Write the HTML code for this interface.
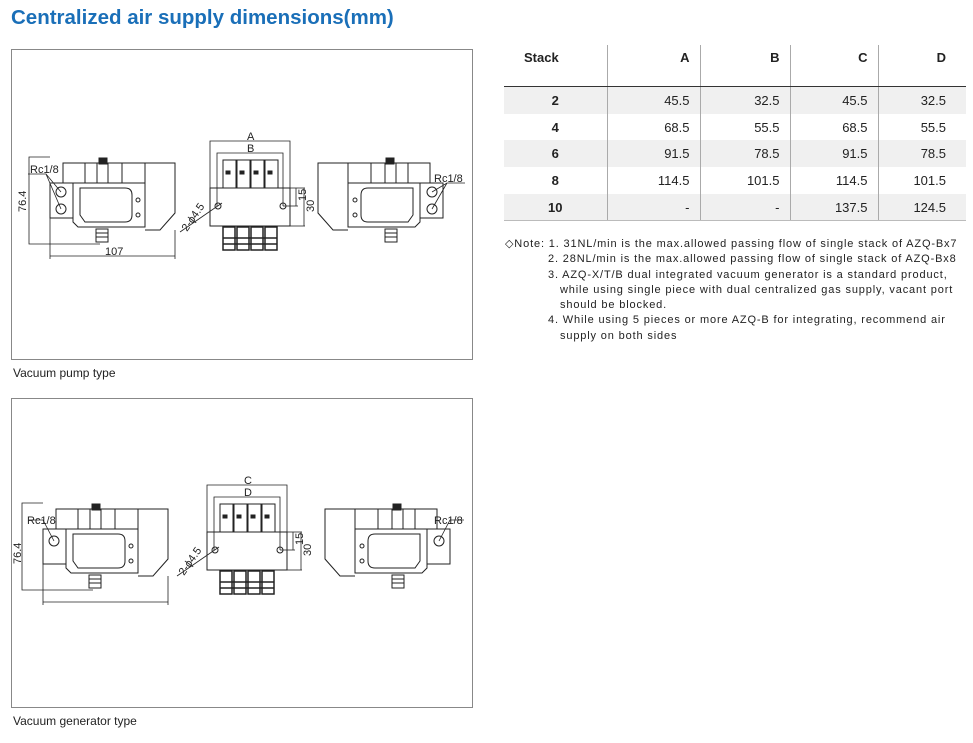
<!DOCTYPE html>
<html><head><meta charset="utf-8"><style>
body{margin:0;width:973px;height:743px;background:#fff;font-family:"Liberation Sans",sans-serif;position:relative;overflow:hidden}
.t{position:absolute;left:11px;top:6px;font-size:20.5px;font-weight:bold;color:#1a6fb8}
.box{position:absolute;left:11px;width:460px;border:1px solid #888}
.cap{position:absolute;left:13px;font-size:12px;color:#222}
table{position:absolute;left:504px;top:45px;width:462px;border-collapse:collapse;table-layout:fixed;font-size:13px;color:#222}
td,th{text-align:right;padding:0 10px 0 0;height:26.7px}
td:last-child,th:last-child{padding-right:20px}
th{height:36px;vertical-align:top;padding-top:5px;font-weight:bold;border-bottom:1.5px solid #333}
td:first-child,th:first-child{text-align:center;font-weight:bold;padding:0}
th:first-child{text-align:left;padding:5px 0 0 20px}
td+td,th+th{border-left:1px solid #aaa}
tr.s td{background:#f0f0f0}
tbody tr:last-child td{border-bottom:1.5px solid #bbb}
.n{position:absolute;left:505px;top:237px;font-size:11px;color:#222;line-height:15.3px;letter-spacing:0.85px}
svg{position:absolute;left:0;top:0}
svg text{font-family:"Liberation Sans",sans-serif;font-size:11px;fill:#222}
</style></head><body>
<div class="t">Centralized air supply dimensions(mm)</div>
<div class="box" style="top:49px;height:309px"></div>
<div class="cap" style="top:366px">Vacuum pump type</div>
<div class="box" style="top:398px;height:308px"></div>
<div class="cap" style="top:714px">Vacuum generator type</div>
<table>
<colgroup><col style="width:103px"><col style="width:93px"><col style="width:90px"><col style="width:88px"><col style="width:88px"></colgroup>
<thead><tr><th>Stack</th><th>A</th><th>B</th><th>C</th><th>D</th></tr></thead>
<tbody>
<tr class="s"><td>2</td><td>45.5</td><td>32.5</td><td>45.5</td><td>32.5</td></tr>
<tr><td>4</td><td>68.5</td><td>55.5</td><td>68.5</td><td>55.5</td></tr>
<tr class="s"><td>6</td><td>91.5</td><td>78.5</td><td>91.5</td><td>78.5</td></tr>
<tr><td>8</td><td>114.5</td><td>101.5</td><td>114.5</td><td>101.5</td></tr>
<tr class="s"><td>10</td><td>-</td><td>-</td><td>137.5</td><td>124.5</td></tr>
</tbody></table>
<div class="n">◇Note: 1. 31NL/min is the max.allowed passing flow of single stack of AZQ-Bx7<br>
<span style="padding-left:43px">2. 28NL/min is the max.allowed passing flow of single stack of AZQ-Bx8</span><br>
<span style="padding-left:43px">3. AZQ-X/T/B dual integrated vacuum generator is a standard product,</span><br>
<span style="padding-left:55px">while using single piece with dual centralized gas supply, vacant port</span><br>
<span style="padding-left:55px">should be blocked.</span><br>
<span style="padding-left:43px">4. While using 5 pieces or more AZQ-B for integrating, recommend air</span><br>
<span style="padding-left:55px">supply on both sides</span></div>
<svg width="973" height="743" viewBox="0 0 973 743">
<defs>
<g id="side" fill="none" stroke="#222" stroke-width="1">
<rect x="50" y="183" width="23" height="35"/>
<rect x="63" y="163" width="82" height="20"/>
<line x1="85" y1="163" x2="85" y2="183"/><line x1="97" y1="163" x2="97" y2="183"/><line x1="108" y1="163" x2="108" y2="183"/><line x1="122" y1="163" x2="122" y2="183"/>
<rect x="99" y="158" width="8" height="6" fill="#222"/>
<path d="M73 183 H145 V227 H78 L73 222 Z"/>
<path d="M80 188 H125 Q132 188 132 195 V215 Q132 222 125 222 H85 L80 215 Z"/>
<path d="M145 163 H175 V213 L160 230 H145"/>
<circle cx="138" cy="200" r="2"/><circle cx="138" cy="215" r="2"/>
<rect x="96" y="229" width="12" height="13"/>
<line x1="96" y1="233" x2="108" y2="233"/><line x1="96" y1="237" x2="108" y2="237"/>
</g>
<g id="front" fill="none" stroke="#222" stroke-width="1">
<rect x="210" y="188" width="80" height="38"/>
<rect x="223" y="160" width="13" height="28"/><rect x="237" y="160" width="13" height="28"/><rect x="251" y="160" width="13" height="28"/><rect x="265" y="160" width="13" height="28"/>
<rect x="226" y="171" width="4" height="3" fill="#222"/><rect x="240" y="171" width="4" height="3" fill="#222"/><rect x="254" y="171" width="4" height="3" fill="#222"/><rect x="268" y="171" width="4" height="3" fill="#222"/>
<g stroke-width="1.5"><rect x="223" y="227" width="12" height="23"/><rect x="237" y="227" width="12" height="23"/><rect x="251" y="227" width="12" height="23"/><rect x="265" y="227" width="12" height="23"/>
<line x1="223" y1="238" x2="277" y2="238"/><line x1="223" y1="244" x2="277" y2="244"/></g>
<circle cx="218" cy="206" r="3"/><circle cx="283" cy="206" r="3"/>
<polyline points="210,188 210,141 290,141 290,188" stroke-width="0.8"/>
<polyline points="217,206 217,153 283,153 283,206" stroke-width="0.8"/>
<line x1="290" y1="188" x2="305" y2="188" stroke-width="0.8"/><line x1="283" y1="206" x2="298" y2="206" stroke-width="0.8"/><line x1="290" y1="226" x2="305" y2="226" stroke-width="0.8"/>
<line x1="296" y1="188" x2="296" y2="206" stroke-width="0.8"/><line x1="304" y1="188" x2="304" y2="226" stroke-width="0.8"/>
<line x1="180" y1="232" x2="222" y2="203" stroke-width="0.8"/>
</g>
</defs>
<g>
<use href="#side"/>
<circle cx="61" cy="192" r="5" fill="none" stroke="#222"/><circle cx="61" cy="209" r="5" fill="none" stroke="#222"/>
<path d="M28 174 H46 L61 192 M46 174 L61 209" fill="none" stroke="#222" stroke-width="0.8"/>
<path d="M50 157 H29 V244 H100 M50 218 V259 M175 230 V259 M50 256 H175" fill="none" stroke="#222" stroke-width="0.8"/>
<text x="30" y="173">Rc1/8</text>
<text x="105" y="255">107</text>
<text transform="translate(26,212) rotate(-90)">76.4</text>
<use href="#front"/>
<text x="247" y="140">A</text><text x="247" y="152">B</text>
<text transform="translate(306,201) rotate(-90)" font-size="10">15</text>
<text transform="translate(314,212) rotate(-90)" font-size="10">30</text>
<text transform="translate(187,232) rotate(-55)" font-size="10">2-ϕ4.5</text>
<g transform="translate(493,0) scale(-1,1)"><use href="#side"/>
<circle cx="61" cy="192" r="5" fill="none" stroke="#222"/><circle cx="61" cy="209" r="5" fill="none" stroke="#222"/>
<path d="M28 183 H46 L61 192 M46 183 L61 209" fill="none" stroke="#222" stroke-width="0.8"/></g>
<text x="434" y="182">Rc1/8</text>
</g>
<g transform="translate(-7,346)">
<use href="#side"/>
<circle cx="61" cy="195" r="5" fill="none" stroke="#222"/>
<path d="M36 174 H50 L61 195" fill="none" stroke="#222" stroke-width="0.8"/>
<path d="M50 157 H29 V244 H100 M50 218 V259 M175 230 V259 M50 256 H175" fill="none" stroke="#222" stroke-width="0.8"/>
<text x="34" y="178">Rc1/8</text>
<text transform="translate(28,218) rotate(-90)">76.4</text>
</g>
<g transform="translate(-3,344)">
<use href="#front"/>
<text x="247" y="140">C</text><text x="247" y="152">D</text>
<text transform="translate(306,201) rotate(-90)" font-size="10">15</text>
<text transform="translate(314,212) rotate(-90)" font-size="10">30</text>
<text transform="translate(187,232) rotate(-55)" font-size="10">2-ϕ4.5</text>
</g>
<g transform="translate(500,346) scale(-1,1)"><use href="#side"/>
<circle cx="61" cy="195" r="5" fill="none" stroke="#222"/>
<path d="M36 174 H50 L61 195" fill="none" stroke="#222" stroke-width="0.8"/></g>
<text x="434" y="524">Rc1/8</text>
</svg>
</body></html>
